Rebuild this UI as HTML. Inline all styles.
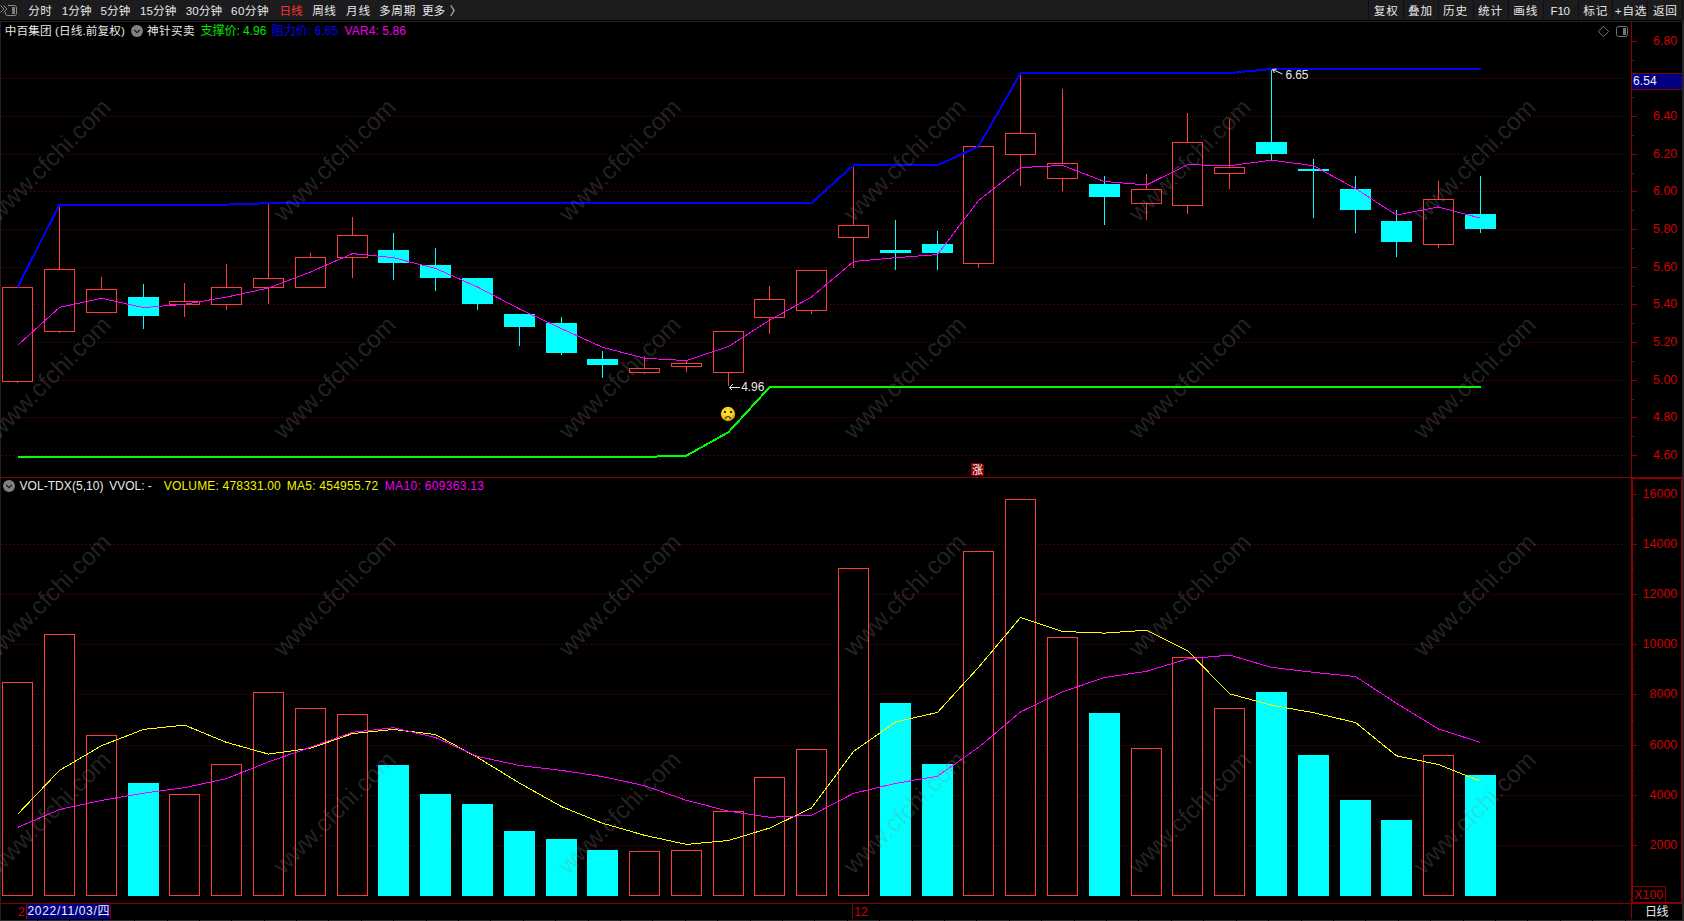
<!DOCTYPE html>
<html lang="zh-CN"><head><meta charset="utf-8"><title>中百集团 日线</title>
<style>
html,body{margin:0;padding:0;background:#000;overflow:hidden}
body{width:1684px;height:921px;position:relative}
svg{position:absolute;left:0;top:0;display:block}
text{font-family:"Liberation Sans", "Noto Sans CJK SC", sans-serif;font-size:12px;white-space:pre}
.ce{shape-rendering:crispEdges}
text.cj{font-size:11.6px}
.lbl{fill:#d00000;text-anchor:end;font-size:12.5px}
.wm text{font-size:24.4px;fill:#8a8a8a;fill-opacity:.26}
</style></head><body>
<svg width="1684" height="921" viewBox="0 0 1684 921">
<rect x="0" y="0" width="1684" height="921" fill="#000"/>
<g class="ce">
<rect x="0" y="0" width="1684" height="20" fill="#1c1c1e"/>
<rect x="0" y="21" width="1682" height="1" fill="#222224"/>
<rect x="0" y="21" width="1" height="900" fill="#222224"/>
<rect x="1682" y="20" width="2" height="901" fill="#262628"/>
</g>
<g class="ce" stroke="#840000" stroke-width="1" stroke-dasharray="1 3">
<line x1="2" y1="78.5" x2="1628" y2="78.5"/>
<line x1="2" y1="116.5" x2="1628" y2="116.5"/>
<line x1="2" y1="154.5" x2="1628" y2="154.5"/>
<line x1="2" y1="191.5" x2="1628" y2="191.5"/>
<line x1="2" y1="229.5" x2="1628" y2="229.5"/>
<line x1="2" y1="267.5" x2="1628" y2="267.5"/>
<line x1="2" y1="304.5" x2="1628" y2="304.5"/>
<line x1="2" y1="342.5" x2="1628" y2="342.5"/>
<line x1="2" y1="380.5" x2="1628" y2="380.5"/>
<line x1="2" y1="417.5" x2="1628" y2="417.5"/>
<line x1="2" y1="455.5" x2="1628" y2="455.5"/>
<line x1="2" y1="544.5" x2="1628" y2="544.5"/>
<line x1="2" y1="594.5" x2="1628" y2="594.5"/>
<line x1="2" y1="644.5" x2="1628" y2="644.5"/>
<line x1="2" y1="694.5" x2="1628" y2="694.5"/>
<line x1="2" y1="745.5" x2="1628" y2="745.5"/>
<line x1="2" y1="795.5" x2="1628" y2="795.5"/>
<line x1="2" y1="845.5" x2="1628" y2="845.5"/>
</g>
<g class="ce" fill="#880000">
<rect x="1631" y="22" width="1" height="456"/>
<rect x="1631" y="478" width="2" height="425"/>
<rect x="1631" y="903" width="1" height="16"/>
<rect x="1" y="477" width="1630" height="1"/>
<rect x="1631" y="477" width="51" height="2"/>
<rect x="1681" y="478" width="1" height="425"/>
<rect x="1" y="903" width="1630" height="1"/>
<rect x="1631" y="902" width="51" height="2"/>
<rect x="1632" y="41" width="5" height="1"/>
<rect x="1632" y="116" width="5" height="1"/>
<rect x="1632" y="154" width="5" height="1"/>
<rect x="1632" y="191" width="5" height="1"/>
<rect x="1632" y="229" width="5" height="1"/>
<rect x="1632" y="267" width="5" height="1"/>
<rect x="1632" y="304" width="5" height="1"/>
<rect x="1632" y="342" width="5" height="1"/>
<rect x="1632" y="380" width="5" height="1"/>
<rect x="1632" y="417" width="5" height="1"/>
<rect x="1632" y="455" width="5" height="1"/>
<rect x="1632" y="60" width="2" height="1"/>
<rect x="1632" y="97" width="2" height="1"/>
<rect x="1632" y="135" width="2" height="1"/>
<rect x="1632" y="173" width="2" height="1"/>
<rect x="1632" y="210" width="2" height="1"/>
<rect x="1632" y="248" width="2" height="1"/>
<rect x="1632" y="286" width="2" height="1"/>
<rect x="1632" y="323" width="2" height="1"/>
<rect x="1632" y="361" width="2" height="1"/>
<rect x="1632" y="399" width="2" height="1"/>
<rect x="1632" y="436" width="2" height="1"/>
<rect x="1633" y="494" width="4" height="1"/>
<rect x="1633" y="544" width="4" height="1"/>
<rect x="1633" y="594" width="4" height="1"/>
<rect x="1633" y="644" width="4" height="1"/>
<rect x="1633" y="694" width="4" height="1"/>
<rect x="1633" y="745" width="4" height="1"/>
<rect x="1633" y="795" width="4" height="1"/>
<rect x="1633" y="845" width="4" height="1"/>
<rect x="1633" y="519" width="1" height="1"/>
<rect x="1633" y="569" width="1" height="1"/>
<rect x="1633" y="619" width="1" height="1"/>
<rect x="1633" y="669" width="1" height="1"/>
<rect x="1633" y="720" width="1" height="1"/>
<rect x="1633" y="770" width="1" height="1"/>
<rect x="1633" y="820" width="1" height="1"/>
<rect x="1633" y="886" width="33" height="1"/>
<rect x="1665" y="886" width="1" height="16"/>
<rect x="852" y="904" width="1" height="15"/>
</g>
<g class="ce">
<rect x="2.5" y="682.5" width="30" height="213" fill="#000" stroke="#ff3c3c" stroke-width="1"/>
<rect x="44.5" y="634.5" width="30" height="261" fill="#000" stroke="#ff3c3c" stroke-width="1"/>
<rect x="86.5" y="735.5" width="30" height="160" fill="#000" stroke="#ff3c3c" stroke-width="1"/>
<rect x="128" y="783" width="31" height="113" fill="#00ffff"/>
<rect x="169.5" y="794.5" width="30" height="101" fill="#000" stroke="#ff3c3c" stroke-width="1"/>
<rect x="211.5" y="764.5" width="30" height="131" fill="#000" stroke="#ff3c3c" stroke-width="1"/>
<rect x="253.5" y="692.5" width="30" height="203" fill="#000" stroke="#ff3c3c" stroke-width="1"/>
<rect x="295.5" y="708.5" width="30" height="187" fill="#000" stroke="#ff3c3c" stroke-width="1"/>
<rect x="337.5" y="714.5" width="30" height="181" fill="#000" stroke="#ff3c3c" stroke-width="1"/>
<rect x="378" y="765" width="31" height="131" fill="#00ffff"/>
<rect x="420" y="794" width="31" height="102" fill="#00ffff"/>
<rect x="462" y="804" width="31" height="92" fill="#00ffff"/>
<rect x="504" y="831" width="31" height="65" fill="#00ffff"/>
<rect x="546" y="839" width="31" height="57" fill="#00ffff"/>
<rect x="587" y="850" width="31" height="46" fill="#00ffff"/>
<rect x="629.5" y="851.5" width="30" height="44" fill="#000" stroke="#ff3c3c" stroke-width="1"/>
<rect x="671.5" y="850.5" width="30" height="45" fill="#000" stroke="#ff3c3c" stroke-width="1"/>
<rect x="713.5" y="811.5" width="30" height="84" fill="#000" stroke="#ff3c3c" stroke-width="1"/>
<rect x="754.5" y="777.5" width="30" height="118" fill="#000" stroke="#ff3c3c" stroke-width="1"/>
<rect x="796.5" y="749.5" width="30" height="146" fill="#000" stroke="#ff3c3c" stroke-width="1"/>
<rect x="838.5" y="568.5" width="30" height="327" fill="#000" stroke="#ff3c3c" stroke-width="1"/>
<rect x="880" y="703" width="31" height="193" fill="#00ffff"/>
<rect x="922" y="764" width="31" height="132" fill="#00ffff"/>
<rect x="963.5" y="551.5" width="30" height="344" fill="#000" stroke="#ff3c3c" stroke-width="1"/>
<rect x="1005.5" y="499.5" width="30" height="396" fill="#000" stroke="#ff3c3c" stroke-width="1"/>
<rect x="1047.5" y="637.5" width="30" height="258" fill="#000" stroke="#ff3c3c" stroke-width="1"/>
<rect x="1089" y="713" width="31" height="183" fill="#00ffff"/>
<rect x="1131.5" y="748.5" width="30" height="147" fill="#000" stroke="#ff3c3c" stroke-width="1"/>
<rect x="1172.5" y="657.5" width="30" height="238" fill="#000" stroke="#ff3c3c" stroke-width="1"/>
<rect x="1214.5" y="708.5" width="30" height="187" fill="#000" stroke="#ff3c3c" stroke-width="1"/>
<rect x="1256" y="692" width="31" height="204" fill="#00ffff"/>
<rect x="1298" y="755" width="31" height="141" fill="#00ffff"/>
<rect x="1340" y="800" width="31" height="96" fill="#00ffff"/>
<rect x="1381" y="820" width="31" height="76" fill="#00ffff"/>
<rect x="1423.5" y="755.5" width="30" height="140" fill="#000" stroke="#ff3c3c" stroke-width="1"/>
<rect x="1465" y="775" width="31" height="121" fill="#00ffff"/>
</g>
<g class="ce">
<rect x="17" y="287" width="1" height="96" fill="#ff3c3c"/>
<rect x="2.5" y="287.5" width="30" height="94" fill="#000" stroke="#ff3c3c" stroke-width="1"/>
<rect x="59" y="205" width="1" height="128" fill="#ff3c3c"/>
<rect x="44.5" y="269.5" width="30" height="62" fill="#000" stroke="#ff3c3c" stroke-width="1"/>
<rect x="101" y="277" width="1" height="36" fill="#ff3c3c"/>
<rect x="86.5" y="289.5" width="30" height="23" fill="#000" stroke="#ff3c3c" stroke-width="1"/>
<rect x="143" y="284" width="1" height="45" fill="#00ffff"/>
<rect x="128" y="297" width="31" height="19" fill="#00ffff"/>
<rect x="184" y="283" width="1" height="34" fill="#ff3c3c"/>
<rect x="169.5" y="301.5" width="30" height="3" fill="#000" stroke="#ff3c3c" stroke-width="1"/>
<rect x="226" y="264" width="1" height="46" fill="#ff3c3c"/>
<rect x="211.5" y="287.5" width="30" height="17" fill="#000" stroke="#ff3c3c" stroke-width="1"/>
<rect x="268" y="204" width="1" height="100" fill="#ff3c3c"/>
<rect x="253.5" y="278.5" width="30" height="9" fill="#000" stroke="#ff3c3c" stroke-width="1"/>
<rect x="310" y="253" width="1" height="35" fill="#ff3c3c"/>
<rect x="295.5" y="257.5" width="30" height="30" fill="#000" stroke="#ff3c3c" stroke-width="1"/>
<rect x="352" y="217" width="1" height="61" fill="#ff3c3c"/>
<rect x="337.5" y="235.5" width="30" height="22" fill="#000" stroke="#ff3c3c" stroke-width="1"/>
<rect x="393" y="233" width="1" height="47" fill="#00ffff"/>
<rect x="378" y="250" width="31" height="13" fill="#00ffff"/>
<rect x="435" y="248" width="1" height="43" fill="#00ffff"/>
<rect x="420" y="265" width="31" height="13" fill="#00ffff"/>
<rect x="477" y="278" width="1" height="32" fill="#00ffff"/>
<rect x="462" y="278" width="31" height="26" fill="#00ffff"/>
<rect x="519" y="314" width="1" height="32" fill="#00ffff"/>
<rect x="504" y="314" width="31" height="13" fill="#00ffff"/>
<rect x="561" y="317" width="1" height="38" fill="#00ffff"/>
<rect x="546" y="323" width="31" height="30" fill="#00ffff"/>
<rect x="602" y="351" width="1" height="27" fill="#00ffff"/>
<rect x="587" y="359" width="31" height="6" fill="#00ffff"/>
<rect x="644" y="356" width="1" height="18" fill="#ff3c3c"/>
<rect x="629.5" y="368.5" width="30" height="4" fill="#000" stroke="#ff3c3c" stroke-width="1"/>
<rect x="686" y="360" width="1" height="12" fill="#ff3c3c"/>
<rect x="671.5" y="363.5" width="30" height="3" fill="#000" stroke="#ff3c3c" stroke-width="1"/>
<rect x="728" y="332" width="1" height="54" fill="#ff3c3c"/>
<rect x="713.5" y="331.5" width="30" height="41" fill="#000" stroke="#ff3c3c" stroke-width="1"/>
<rect x="769" y="286" width="1" height="48" fill="#ff3c3c"/>
<rect x="754.5" y="299.5" width="30" height="18" fill="#000" stroke="#ff3c3c" stroke-width="1"/>
<rect x="811" y="270" width="1" height="44" fill="#ff3c3c"/>
<rect x="796.5" y="270.5" width="30" height="40" fill="#000" stroke="#ff3c3c" stroke-width="1"/>
<rect x="853" y="166" width="1" height="102" fill="#ff3c3c"/>
<rect x="838.5" y="225.5" width="30" height="12" fill="#000" stroke="#ff3c3c" stroke-width="1"/>
<rect x="895" y="220" width="1" height="50" fill="#00ffff"/>
<rect x="880" y="250" width="31" height="3" fill="#00ffff"/>
<rect x="937" y="231" width="1" height="39" fill="#00ffff"/>
<rect x="922" y="244" width="31" height="9" fill="#00ffff"/>
<rect x="978" y="146" width="1" height="122" fill="#ff3c3c"/>
<rect x="963.5" y="146.5" width="30" height="117" fill="#000" stroke="#ff3c3c" stroke-width="1"/>
<rect x="1020" y="74" width="1" height="112" fill="#ff3c3c"/>
<rect x="1005.5" y="133.5" width="30" height="21" fill="#000" stroke="#ff3c3c" stroke-width="1"/>
<rect x="1062" y="89" width="1" height="102" fill="#ff3c3c"/>
<rect x="1047.5" y="163.5" width="30" height="15" fill="#000" stroke="#ff3c3c" stroke-width="1"/>
<rect x="1104" y="176" width="1" height="49" fill="#00ffff"/>
<rect x="1089" y="184" width="31" height="13" fill="#00ffff"/>
<rect x="1146" y="174" width="1" height="46" fill="#ff3c3c"/>
<rect x="1131.5" y="189.5" width="30" height="14" fill="#000" stroke="#ff3c3c" stroke-width="1"/>
<rect x="1187" y="113" width="1" height="101" fill="#ff3c3c"/>
<rect x="1172.5" y="142.5" width="30" height="63" fill="#000" stroke="#ff3c3c" stroke-width="1"/>
<rect x="1229" y="119" width="1" height="70" fill="#ff3c3c"/>
<rect x="1214.5" y="167.5" width="30" height="6" fill="#000" stroke="#ff3c3c" stroke-width="1"/>
<rect x="1271" y="68" width="1" height="92" fill="#00ffff"/>
<rect x="1256" y="142" width="31" height="12" fill="#00ffff"/>
<rect x="1313" y="159" width="1" height="59" fill="#00ffff"/>
<rect x="1298" y="169" width="31" height="2" fill="#00ffff"/>
<rect x="1355" y="176" width="1" height="57" fill="#00ffff"/>
<rect x="1340" y="189" width="31" height="21" fill="#00ffff"/>
<rect x="1396" y="210" width="1" height="47" fill="#00ffff"/>
<rect x="1381" y="221" width="31" height="21" fill="#00ffff"/>
<rect x="1438" y="181" width="1" height="67" fill="#ff3c3c"/>
<rect x="1423.5" y="199.5" width="30" height="45" fill="#000" stroke="#ff3c3c" stroke-width="1"/>
<rect x="1480" y="176" width="1" height="57" fill="#00ffff"/>
<rect x="1465" y="214" width="31" height="15" fill="#00ffff"/>
</g>
<polyline class="ce" fill="none" stroke="#00ff00" stroke-width="2" stroke-linejoin="miter" points="17.5,456.9 59.5,456.9 101.5,456.9 143.5,456.9 184.5,456.9 226.5,456.9 268.5,456.9 310.5,456.9 352.5,456.9 393.5,456.9 435.5,456.9 477.5,456.9 519.5,456.9 561.5,456.9 602.5,456.9 644.5,456.9 686.5,455.6 728.5,432.2 769.5,387.2 811.5,387.2 853.5,387.2 895.5,387.2 937.5,387.2 978.5,387.2 1020.5,387.2 1062.5,387.2 1104.5,387.2 1146.5,387.2 1187.5,387.2 1229.5,387.2 1271.5,387.2 1313.5,387.2 1355.5,387.2 1396.5,387.2 1438.5,387.2 1480.5,387.2"/>
<polyline class="ce" fill="none" stroke="#0000ff" stroke-width="2" stroke-linejoin="miter" points="17.5,287.3 59.5,204.6 101.5,204.6 143.5,204.6 184.5,204.6 226.5,204.6 268.5,203.2 310.5,203.0 352.5,203.0 393.5,203.0 435.5,203.0 477.5,203.0 519.5,203.0 561.5,203.0 602.5,203.0 644.5,203.0 686.5,203.0 728.5,203.0 769.5,203.0 811.5,203.0 853.5,165.2 895.5,165.2 937.5,165.2 978.5,146.5 1020.5,73.2 1062.5,73.0 1104.5,73.0 1146.5,73.0 1187.5,73.0 1229.5,73.0 1271.5,69.0 1313.5,69.0 1355.5,69.0 1396.5,69.0 1438.5,69.0 1480.5,69.0"/>
<polyline class="ce" fill="none" stroke="#ff00ff" stroke-width="1" stroke-linejoin="miter" points="17.5,345.4 59.5,307.4 101.5,298.3 143.5,307.6 184.5,304.3 226.5,297.1 268.5,288.0 310.5,272.0 352.5,253.6 393.5,257.7 435.5,268.4 477.5,287.0 519.5,309.0 561.5,328.6 602.5,347.3 644.5,358.3 686.5,360.6 728.5,346.5 769.5,320.2 811.5,297.0 853.5,261.5 895.5,257.7 937.5,254.6 978.5,200.5 1020.5,167.6 1062.5,165.4 1104.5,181.5 1146.5,185.0 1187.5,164.7 1229.5,165.7 1271.5,160.2 1313.5,165.7 1355.5,188.6 1396.5,215.0 1438.5,207.0 1480.5,218.1"/>
<polyline class="ce" fill="none" stroke="#ffff00" stroke-width="1" stroke-linejoin="miter" points="17.5,814.4 59.5,770.4 101.5,745.7 143.5,729.4 184.5,725.1 226.5,742.4 268.5,754.1 310.5,748.3 352.5,733.6 393.5,729.4 435.5,734.6 477.5,757.4 519.5,783.1 561.5,806.6 602.5,823.2 644.5,835.3 686.5,844.4 728.5,840.5 769.5,828.1 811.5,808.0 853.5,751.5 895.5,722.0 937.5,712.4 978.5,667.4 1020.5,617.5 1062.5,631.5 1104.5,633.1 1146.5,630.2 1187.5,650.6 1229.5,693.8 1271.5,705.2 1313.5,712.7 1355.5,722.5 1396.5,755.8 1438.5,764.5 1480.5,781.2"/>
<polyline class="ce" fill="none" stroke="#ff00ff" stroke-width="1" stroke-linejoin="miter" points="17.5,827.4 59.5,809.5 101.5,800.4 143.5,793.2 184.5,787.7 226.5,778.6 268.5,761.9 310.5,747.3 352.5,732.3 393.5,727.7 435.5,737.5 477.5,756.4 519.5,765.5 561.5,770.4 602.5,776.6 644.5,785.7 686.5,800.4 728.5,811.1 769.5,817.3 811.5,815.3 853.5,793.4 895.5,783.4 937.5,776.2 978.5,747.4 1020.5,711.9 1062.5,691.8 1104.5,677.5 1146.5,671.3 1187.5,658.9 1229.5,655.1 1271.5,667.4 1313.5,672.3 1355.5,676.6 1396.5,703.3 1438.5,729.0 1480.5,742.4"/>
<g fill="none" stroke="#e8e8e8" stroke-width="1" class="ce">
<path d="M729.5 387.5H740M729.5 387.5l3-3M729.5 387.5l3 3"/>
</g>
<g fill="none" stroke="#e8e8e8" stroke-width="1">
<path d="M1272.5 69.5L1282.5 74M1272.5 69.5l4-.5M1272.5 69.5l2 3.5"/>
</g>
<text x="741.2" y="390.9" fill="#e8e8e8" textLength="23.2">4.96</text>
<text x="1285.5" y="78.8" fill="#e8e8e8" textLength="23">6.65</text>
<defs><radialGradient id="sg" cx="45%" cy="40%" r="62%"><stop offset="0" stop-color="#ffe63c"/><stop offset=".6" stop-color="#f5cc1e"/><stop offset="1" stop-color="#c89a08"/></radialGradient></defs>
<g>
<circle cx="728" cy="414" r="7.2" fill="url(#sg)"/>
<rect x="724" y="411" width="2" height="2" fill="#3a2a00"/>
<rect x="730" y="411" width="2" height="2" fill="#3a2a00"/>
<path d="M725.2 418.3Q728 414.6 730.8 418.3" fill="none" stroke="#3a2a00" stroke-width="1.1" stroke-linecap="round"/>
</g>
<path class="ce" d="M971 463H982V464H983V465H984V476H971Z" fill="#860000"/>
<text x="972" y="474" fill="#ffffff" style="font-size:11px">涨</text>
<g class="ce">
<rect x="1632" y="73" width="50" height="16" fill="#000080"/>
<rect x="1632" y="73" width="50" height="1" fill="#880000"/>
<rect x="1632" y="89" width="50" height="1" fill="#880000"/>
</g>
<text x="1633" y="84.9" fill="#f0f0f0" textLength="23.6">6.54</text>
<text class="lbl" x="1677.3" y="45.2">6.80</text>
<text class="lbl" x="1677.3" y="120.2">6.40</text>
<text class="lbl" x="1677.3" y="158.2">6.20</text>
<text class="lbl" x="1677.3" y="195.2">6.00</text>
<text class="lbl" x="1677.3" y="233.2">5.80</text>
<text class="lbl" x="1677.3" y="271.2">5.60</text>
<text class="lbl" x="1677.3" y="308.2">5.40</text>
<text class="lbl" x="1677.3" y="346.2">5.20</text>
<text class="lbl" x="1677.3" y="384.2">5.00</text>
<text class="lbl" x="1677.3" y="421.2">4.80</text>
<text class="lbl" x="1677.3" y="459.2">4.60</text>
<text class="lbl" x="1677.3" y="498.2">16000</text>
<text class="lbl" x="1677.3" y="548.2">14000</text>
<text class="lbl" x="1677.3" y="598.2">12000</text>
<text class="lbl" x="1677.3" y="648.2">10000</text>
<text class="lbl" x="1677.3" y="698.2">8000</text>
<text class="lbl" x="1677.3" y="749.2">6000</text>
<text class="lbl" x="1677.3" y="799.2">4000</text>
<text class="lbl" x="1677.3" y="849.2">2000</text>
<text x="1634.3" y="898.6" fill="#d00000" textLength="29">X100</text>
<text x="18" y="915.6" fill="#d00000">2022</text>
<g class="ce"><rect x="26" y="904" width="85" height="15" fill="#000080"/>
<rect x="26" y="904" width="1" height="15" fill="#880000"/><rect x="110" y="904" width="1" height="15" fill="#880000"/></g>
<text x="27.5" y="914.9" fill="#f0f0f0" textLength="82">2022/11/03/四</text>
<text x="854.3" y="916.3" fill="#d00000">12</text>
<text x="1645" y="916.2" fill="#e8e8e8" textLength="23.5">日线</text>
<g class="ce"><rect x="0" y="920" width="1684" height="1" fill="#2c2c2e"/>
<rect x="37" y="920" width="1" height="1" fill="#000"/>
<rect x="69" y="920" width="1" height="1" fill="#000"/>
<rect x="102" y="920" width="1" height="1" fill="#000"/>
<rect x="134" y="920" width="1" height="1" fill="#000"/>
<rect x="167" y="920" width="1" height="1" fill="#000"/>
<rect x="199" y="920" width="1" height="1" fill="#000"/>
<rect x="231" y="920" width="1" height="1" fill="#000"/>
<rect x="264" y="920" width="1" height="1" fill="#000"/>
<rect x="296" y="920" width="1" height="1" fill="#000"/>
<rect x="328" y="920" width="1" height="1" fill="#000"/>
<rect x="361" y="920" width="1" height="1" fill="#000"/>
<rect x="393" y="920" width="1" height="1" fill="#000"/>
<rect x="426" y="920" width="1" height="1" fill="#000"/>
<rect x="458" y="920" width="1" height="1" fill="#000"/>
<rect x="490" y="920" width="1" height="1" fill="#000"/>
<rect x="523" y="920" width="1" height="1" fill="#000"/>
<rect x="555" y="920" width="1" height="1" fill="#000"/>
<rect x="588" y="920" width="1" height="1" fill="#000"/>
<rect x="620" y="920" width="1" height="1" fill="#000"/>
<rect x="652" y="920" width="1" height="1" fill="#000"/>
<rect x="685" y="920" width="1" height="1" fill="#000"/>
<rect x="717" y="920" width="1" height="1" fill="#000"/>
<rect x="750" y="920" width="1" height="1" fill="#000"/>
<rect x="782" y="920" width="1" height="1" fill="#000"/>
<rect x="814" y="920" width="1" height="1" fill="#000"/>
<rect x="847" y="920" width="1" height="1" fill="#000"/>
<rect x="879" y="920" width="1" height="1" fill="#000"/>
<rect x="912" y="920" width="1" height="1" fill="#000"/>
<rect x="944" y="920" width="1" height="1" fill="#000"/>
<rect x="976" y="920" width="1" height="1" fill="#000"/>
<rect x="1009" y="920" width="1" height="1" fill="#000"/>
<rect x="1041" y="920" width="1" height="1" fill="#000"/>
<rect x="1074" y="920" width="1" height="1" fill="#000"/>
<rect x="1106" y="920" width="1" height="1" fill="#000"/>
<rect x="1138" y="920" width="1" height="1" fill="#000"/>
<rect x="1171" y="920" width="1" height="1" fill="#000"/>
<rect x="1203" y="920" width="1" height="1" fill="#000"/>
<rect x="1236" y="920" width="1" height="1" fill="#000"/>
<rect x="1268" y="920" width="1" height="1" fill="#000"/>
<rect x="1301" y="920" width="1" height="1" fill="#000"/>
<rect x="1333" y="920" width="1" height="1" fill="#000"/>
<rect x="1365" y="920" width="1" height="1" fill="#000"/>
<rect x="1398" y="920" width="1" height="1" fill="#000"/>
<rect x="1430" y="920" width="1" height="1" fill="#000"/>
<rect x="1463" y="920" width="1" height="1" fill="#000"/>
<rect x="1495" y="920" width="1" height="1" fill="#000"/>
<rect x="1527" y="920" width="1" height="1" fill="#000"/>
<rect x="1560" y="920" width="1" height="1" fill="#000"/>
<rect x="1592" y="920" width="1" height="1" fill="#000"/>
<rect x="1625" y="920" width="1" height="1" fill="#000"/>
<rect x="1657" y="920" width="1" height="1" fill="#000"/>
</g>
<text class="cj" x="4.8" y="35.1" fill="#e8e8e8" textLength="120">中百集团 (日线.前复权)</text>
<circle cx="137" cy="31" r="6" fill="#808080"/>
<path d="M134.2 29.9L137 32.6L139.8 29.9" fill="none" stroke="#141414" stroke-width="1.2"/>
<text class="cj" x="147" y="35.1" fill="#e8e8e8" textLength="47.6">神针买卖</text>
<text x="200.6" y="35.2" fill="#00e600" textLength="65.8">支撑价: 4.96</text>
<text x="271.7" y="35.2" fill="#0000ff" textLength="66.2">阻力价: 6.65</text>
<text x="344.6" y="35.2" fill="#ee00ee" textLength="61.4">VAR4: 5.86</text>
<circle cx="9" cy="486" r="6" fill="#808080"/>
<path d="M6.2 484.9L9 487.6L11.8 484.9" fill="none" stroke="#141414" stroke-width="1.2"/>
<text x="19.5" y="490.2" fill="#e8e8e8" textLength="84">VOL-TDX(5,10)</text>
<text x="109.3" y="490.2" fill="#e8e8e8" textLength="42.5">VVOL: -</text>
<text x="163.8" y="490.2" fill="#f2f200" textLength="117">VOLUME: 478331.00</text>
<text x="286.7" y="490.2" fill="#f2f200" textLength="91.4">MA5: 454955.72</text>
<text x="384.8" y="490.2" fill="#ee00ee" textLength="99.2">MA10: 609363.13</text>
<path d="M1603.5 26.3L1608.7 31.5L1603.5 36.7L1598.3 31.5Z" fill="none" stroke="#7a7a7a" stroke-width="1"/>
<rect x="1616.5" y="26.5" width="11" height="10" rx="2.2" fill="none" stroke="#747474" stroke-width="1"/>
<rect class="ce" x="1623" y="28" width="3" height="7" fill="#747474"/>
<g fill="none" stroke="#8a8a8a" stroke-width="1">
<path d="M0.5 5.5L4 9L0.5 12.5M3.5 5.5L7 9L3.5 12.5"/>
<path d="M8 5.5H14.5Q16.5 5.5 16.5 7.5V13.5Q16.5 15.5 14.5 15.5H7.5Q5.5 15.5 5.5 13.5V12"/>
</g>
<rect class="ce" x="12" y="7" width="3" height="7" fill="#7c7c7c"/>
<text class="cj" x="28.2" y="15.2" fill="#e8e8e8" textLength="23.6">分时</text>
<text class="cj" x="61.7" y="15.2" fill="#e8e8e8" textLength="30.0">1分钟</text>
<text class="cj" x="100.6" y="15.2" fill="#e8e8e8" textLength="29.8">5分钟</text>
<text class="cj" x="140.0" y="15.2" fill="#e8e8e8" textLength="36.4">15分钟</text>
<text class="cj" x="185.7" y="15.2" fill="#e8e8e8" textLength="36.5">30分钟</text>
<text class="cj" x="231.0" y="15.2" fill="#e8e8e8" textLength="37.5">60分钟</text>
<text class="cj" x="279.4" y="15.2" fill="#ff3232" textLength="23.3">日线</text>
<text class="cj" x="312.2" y="15.2" fill="#e8e8e8" textLength="23.7">周线</text>
<text class="cj" x="346.1" y="15.2" fill="#e8e8e8" textLength="23.9">月线</text>
<text class="cj" x="378.9" y="15.2" fill="#e8e8e8" textLength="36.4">多周期</text>
<text class="cj" x="422.0" y="15.2" fill="#e8e8e8" textLength="23.2">更多</text>
<text class="cj" x="449.8" y="15.4" fill="#e8e8e8">〉</text>
<g class="ce" fill="#101012">
<rect x="1368" y="0" width="1" height="20"/>
<rect x="1403" y="0" width="1" height="20"/>
<rect x="1438" y="0" width="1" height="20"/>
<rect x="1473" y="0" width="1" height="20"/>
<rect x="1508" y="0" width="1" height="20"/>
<rect x="1543" y="0" width="1" height="20"/>
<rect x="1578" y="0" width="1" height="20"/>
<rect x="1612" y="0" width="1" height="20"/>
<rect x="1647" y="0" width="1" height="20"/>
<rect x="1682" y="0" width="1" height="20"/>
</g>
<text class="cj" x="1373.8" y="15.2" fill="#e8e8e8" textLength="24.1">复权</text>
<text class="cj" x="1407.9" y="15.2" fill="#e8e8e8" textLength="24.1">叠加</text>
<text class="cj" x="1442.9" y="15.2" fill="#e8e8e8" textLength="24.1">历史</text>
<text class="cj" x="1477.9" y="15.2" fill="#e8e8e8" textLength="24.1">统计</text>
<text class="cj" x="1513.2" y="15.2" fill="#e8e8e8" textLength="24.1">画线</text>
<text class="cj" x="1550.6" y="15.2" fill="#e8e8e8" textLength="19.4">F10</text>
<text class="cj" x="1583.2" y="15.2" fill="#e8e8e8" textLength="24.1">标记</text>
<text class="cj" x="1614.8" y="15.2" fill="#e8e8e8" textLength="31.6">+自选</text>
<text class="cj" x="1652.9" y="15.2" fill="#e8e8e8" textLength="23.9">返回</text>
<g class="wm">
<text transform="translate(-1.6 222.8) rotate(-45)">www.cfchi.com</text>
<text transform="translate(283.4 222.8) rotate(-45)">www.cfchi.com</text>
<text transform="translate(568.4 222.8) rotate(-45)">www.cfchi.com</text>
<text transform="translate(853.4 222.8) rotate(-45)">www.cfchi.com</text>
<text transform="translate(1138.4 222.8) rotate(-45)">www.cfchi.com</text>
<text transform="translate(1423.4 222.8) rotate(-45)">www.cfchi.com</text>
<text transform="translate(-1.6 440.3) rotate(-45)">www.cfchi.com</text>
<text transform="translate(283.4 440.3) rotate(-45)">www.cfchi.com</text>
<text transform="translate(568.4 440.3) rotate(-45)">www.cfchi.com</text>
<text transform="translate(853.4 440.3) rotate(-45)">www.cfchi.com</text>
<text transform="translate(1138.4 440.3) rotate(-45)">www.cfchi.com</text>
<text transform="translate(1423.4 440.3) rotate(-45)">www.cfchi.com</text>
<text transform="translate(-1.6 657.8) rotate(-45)">www.cfchi.com</text>
<text transform="translate(283.4 657.8) rotate(-45)">www.cfchi.com</text>
<text transform="translate(568.4 657.8) rotate(-45)">www.cfchi.com</text>
<text transform="translate(853.4 657.8) rotate(-45)">www.cfchi.com</text>
<text transform="translate(1138.4 657.8) rotate(-45)">www.cfchi.com</text>
<text transform="translate(1423.4 657.8) rotate(-45)">www.cfchi.com</text>
<text transform="translate(-1.6 875.3) rotate(-45)">www.cfchi.com</text>
<text transform="translate(283.4 875.3) rotate(-45)">www.cfchi.com</text>
<text transform="translate(568.4 875.3) rotate(-45)">www.cfchi.com</text>
<text transform="translate(853.4 875.3) rotate(-45)">www.cfchi.com</text>
<text transform="translate(1138.4 875.3) rotate(-45)">www.cfchi.com</text>
<text transform="translate(1423.4 875.3) rotate(-45)">www.cfchi.com</text>
</g>
</svg>
</body></html>
